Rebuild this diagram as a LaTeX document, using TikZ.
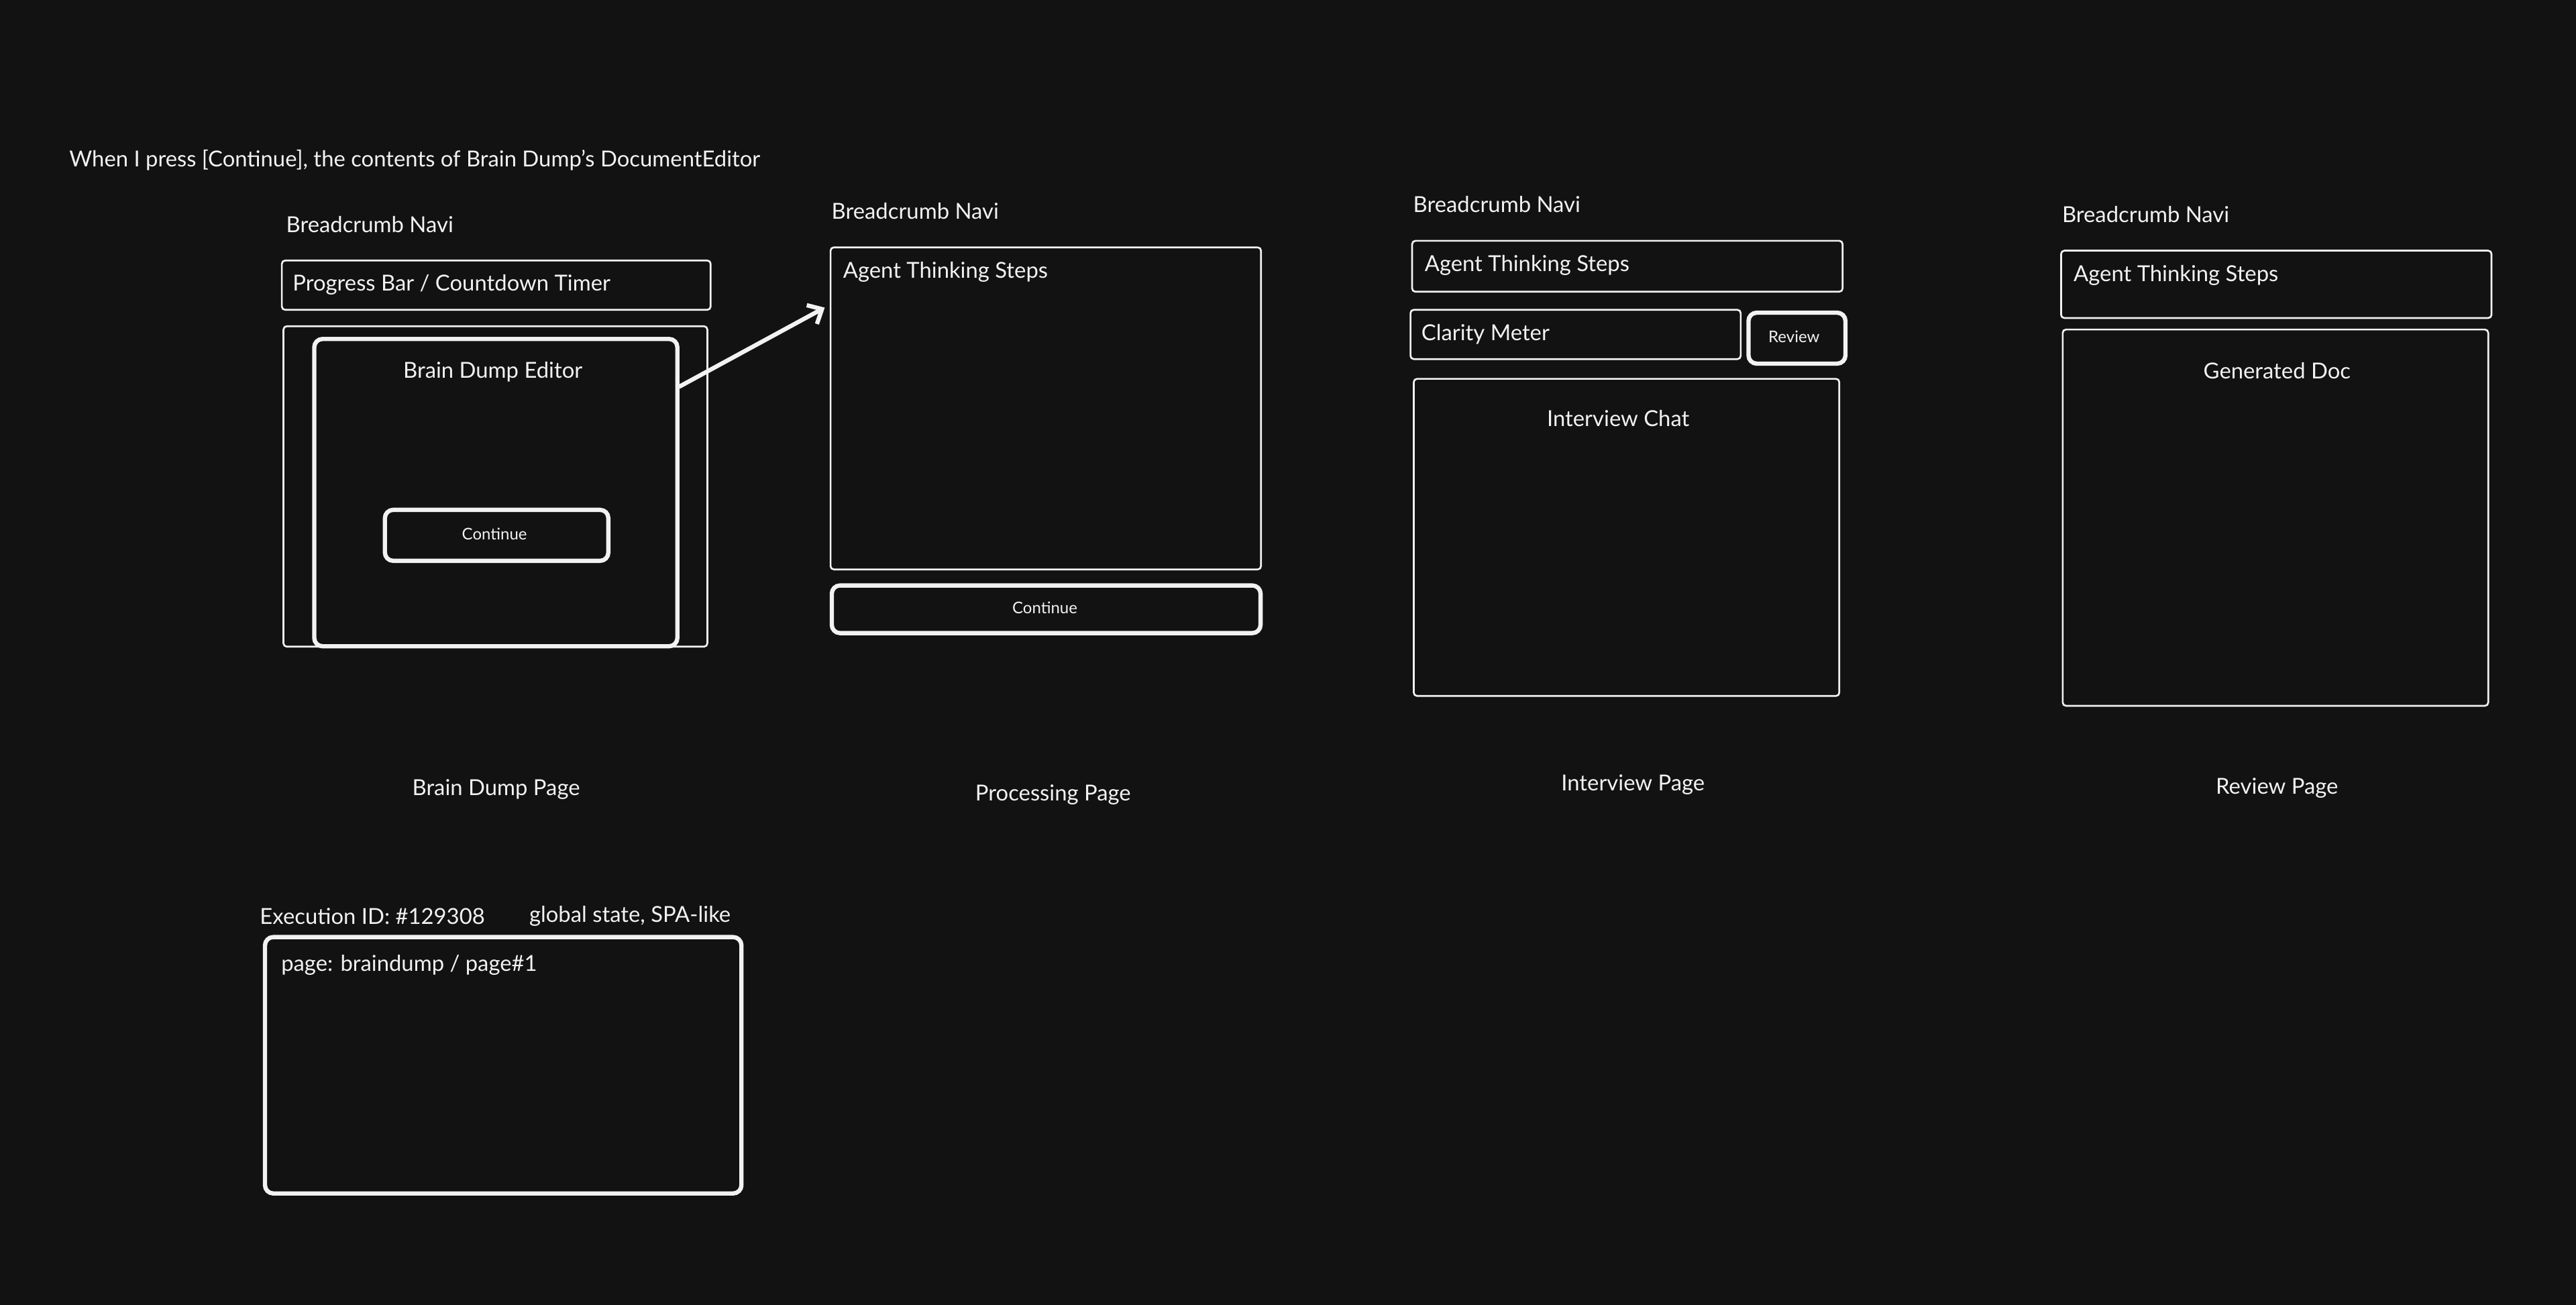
\documentclass[tikz,border=0pt]{standalone}
\usepackage{fontspec}
\setmainfont{Lato}
\usetikzlibrary{arrows.meta}
\definecolor{bg}{HTML}{121212}
\definecolor{ink}{HTML}{F2F2F2}
\begin{document}
\begin{tikzpicture}[x=1pt,y=-1pt,
  thinbox/.style={draw=ink, line width=1.1pt, rounded corners=2pt, anchor=north west, inner sep=0pt},
  thickbox/.style={draw=ink, line width=2.6pt, rounded corners=5pt, anchor=north west, inner sep=0pt},
  txt/.style={text=ink, font=\fontsize{13.4}{15}\selectfont, inner sep=0pt},
  smalltxt/.style={text=ink, font=\fontsize{9.8}{11}\selectfont, inner sep=0pt},
  conn/.style={draw=ink, line width=2.6pt, line cap=round, -{Straight Barb[length=7pt,width=13pt]}}]
\fill[bg] (0,0) rectangle (1568,794);
\useasboundingbox (0,0) rectangle (1568,794);

% title
\node[txt, anchor=west] (title) at (42,97.5) {When I press [Continue], the contents of Brain Dump's DocumentEditor};

% Brain Dump page
\node[txt, anchor=west] (bn1) at (174,136.5) {Breadcrumb Navi};
\node[thinbox, minimum width=261pt, minimum height=30pt] (pb) at (171,158) {};
\node[txt, anchor=west] (pbt) at (178,173.5) {Progress Bar / Countdown Timer};
\node[thinbox, minimum width=258pt, minimum height=195pt] (bdc) at (172,198) {};
\node[thickbox, minimum width=221pt, minimum height=187pt] (bde) at (190,205) {};
\node[txt] (bdet) at (300,226.5) {Brain Dump Editor};
\node[thickbox, minimum width=136pt, minimum height=31pt] (bcont) at (233,309) {};
\node[smalltxt] (bct) at (301,325) {Continue};
\node[txt] (p1) at (302,480.5) {Brain Dump Page};

% Processing page
\node[txt, anchor=west] (bn2) at (506,128.5) {Breadcrumb Navi};
\node[thinbox, minimum width=262pt, minimum height=196pt] (ag1) at (505,150) {};
\node[txt, anchor=west] (ag1t) at (513,165.5) {Agent Thinking Steps};
\node[thickbox, minimum width=261pt, minimum height=29pt] (pcont) at (505,355) {};
\node[smalltxt] (pct) at (636,370) {Continue};
\node[txt] (p2) at (641,483.5) {Processing Page};

% arrow
\draw[conn] (bde.30) -- ([xshift=-3pt]ag1.155);

% Interview page
\node[txt, anchor=west] (bn3) at (860,124.5) {Breadcrumb Navi};
\node[thinbox, minimum width=262pt, minimum height=31pt] (ag2) at (859,146) {};
\node[txt, anchor=west] (ag2t) at (867,161.5) {Agent Thinking Steps};
\node[thinbox, minimum width=201pt, minimum height=30pt] (clar) at (858,188) {};
\node[txt, anchor=west] (clart) at (865,203.5) {Clarity Meter};
\node[thickbox, minimum width=59pt, minimum height=31pt] (rev) at (1063,189) {};
\node[smalltxt] (revt) at (1092,205) {Review};
\node[thinbox, minimum width=259pt, minimum height=193pt] (chat) at (860,230) {};
\node[txt] (chatt) at (985,254.5) {Interview Chat};
\node[txt] (p3) at (994,477.5) {Interview Page};

% Review page
\node[txt, anchor=west] (bn4) at (1255,130.5) {Breadcrumb Navi};
\node[thinbox, minimum width=262pt, minimum height=41pt] (ag3) at (1254,152) {};
\node[txt, anchor=west] (ag3t) at (1262,167.5) {Agent Thinking Steps};
\node[thinbox, minimum width=259pt, minimum height=229pt] (gdoc) at (1255,200) {};
\node[txt] (gdoct) at (1386,225.5) {Generated Doc};
\node[txt] (p4) at (1386,479.5) {Review Page};

% global state
\node[txt, anchor=west] (execid) at (158,557.5) {Execution ID: \#129308};
\node[txt, anchor=west] (glob) at (322,557.5) {global state, SPA-like};
\node[thickbox, minimum width=290pt, minimum height=156pt] (exec) at (160,569) {};
\node[txt, anchor=west] (pagetxt) at (171,587.5) {page: braindump / page\#1};
\end{tikzpicture}
\end{document}
